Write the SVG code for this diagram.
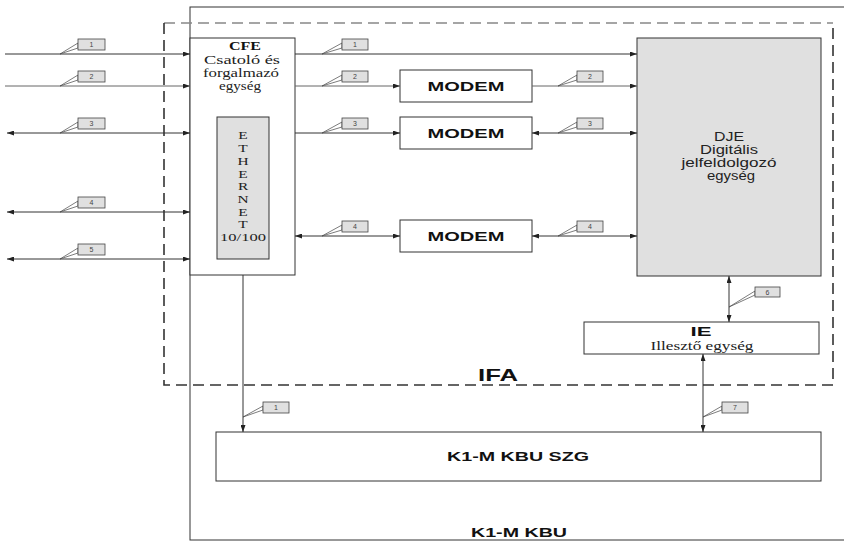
<svg xmlns="http://www.w3.org/2000/svg" width="844" height="544" viewBox="0 0 844 544">
<style>
.box{fill:#fff;stroke:#333;stroke-width:1}
.gbox{fill:#e0e0e0;stroke:#333;stroke-width:1}
.con{fill:none;stroke:#333;stroke-width:1}
.con2{fill:none;stroke:#666;stroke-width:1}
.dash{fill:none;stroke:#333;stroke-width:1.6;stroke-dasharray:11 6}
.dashg{fill:none;stroke:#888;stroke-width:1.6;stroke-dasharray:11 6}
.lb{fill:#e0e0e0;stroke:#444;stroke-width:0.8}
.ld{fill:#fff;stroke:#444;stroke-width:0.7}
.ln{font-family:"Liberation Sans",Arial,sans-serif;font-size:7px;fill:#444;text-anchor:middle}
.sb{font-family:"Liberation Sans",Arial,sans-serif;font-weight:bold;font-size:12px;fill:#111;text-anchor:middle}
.s{font-family:"Liberation Sans",Arial,sans-serif;font-size:12px;fill:#222;text-anchor:middle}
.r{font-family:"Liberation Serif","Times New Roman",serif;font-size:12px;fill:#222;text-anchor:middle}
.rs{font-family:"Liberation Serif","Times New Roman",serif;font-size:11.5px;fill:#222;text-anchor:middle}
.rb{font-family:"Liberation Serif","Times New Roman",serif;font-weight:bold;font-size:13px;fill:#111;text-anchor:middle}
.re{font-family:"Liberation Serif","Times New Roman",serif;font-size:11px;fill:#222;text-anchor:middle}
</style>
<defs>
<marker id="ah" viewBox="0 0 7 5" refX="7" refY="2.5" markerWidth="7" markerHeight="5" markerUnits="userSpaceOnUse" orient="auto-start-reverse">
<path d="M0,0 L7,2.5 L0,5 z" fill="#222"/>
</marker>
</defs>

<g id="kbu">
<rect x="190" y="7" width="680" height="533" class="box"/>
<text class="sb" x="519" y="537" textLength="96" lengthAdjust="spacingAndGlyphs">K1-M KBU</text>
</g>

<g id="ifa">
<path d="M164,23 H833" class="dashg"/>
<path d="M164,23 V385 H833 V23" class="dash"/>
<text class="sb" x="498" y="381" style="font-size:17px" textLength="40" lengthAdjust="spacingAndGlyphs">IFA</text>
</g>

<g id="cfe">
<rect x="190" y="38" width="105" height="237" class="box"/>
<text class="rb" x="245" y="50" textLength="32" lengthAdjust="spacingAndGlyphs">CFE</text>
<text class="rs" x="242" y="64" textLength="76" lengthAdjust="spacingAndGlyphs">Csatoló  és</text>
<text class="rs" x="241" y="76.5" textLength="76" lengthAdjust="spacingAndGlyphs">forgalmazó</text>
<text class="rs" x="240" y="89.5" textLength="42" lengthAdjust="spacingAndGlyphs">egység</text>
</g>

<g id="ethernet">
<rect x="217" y="117" width="52" height="142" class="gbox"/>
<g class="re">
<text transform="translate(243 0) scale(1.4 1)" x="0" y="139">E</text>
<text transform="translate(243 0) scale(1.4 1)" x="0" y="152">T</text>
<text transform="translate(243 0) scale(1.4 1)" x="0" y="165">H</text>
<text transform="translate(243 0) scale(1.4 1)" x="0" y="178">E</text>
<text transform="translate(243 0) scale(1.4 1)" x="0" y="190">R</text>
<text transform="translate(243 0) scale(1.4 1)" x="0" y="203">N</text>
<text transform="translate(243 0) scale(1.4 1)" x="0" y="216">E</text>
<text transform="translate(243 0) scale(1.4 1)" x="0" y="228">T</text>
</g>
<text class="re" x="243" y="241" textLength="46" lengthAdjust="spacingAndGlyphs">10/100</text>
</g>

<g id="modem2">
<rect x="400" y="70" width="132" height="32" class="box"/>
<text class="sb" x="466" y="91" style="font-size:13px" textLength="77" lengthAdjust="spacingAndGlyphs">MODEM</text>
</g>
<g id="modem3">
<rect x="400" y="117" width="132" height="32" class="box"/>
<text class="sb" x="466" y="138" style="font-size:13px" textLength="77" lengthAdjust="spacingAndGlyphs">MODEM</text>
</g>
<g id="modem4">
<rect x="400" y="220" width="132" height="32" class="box"/>
<text class="sb" x="466" y="241" style="font-size:13px" textLength="77" lengthAdjust="spacingAndGlyphs">MODEM</text>
</g>

<g id="dje">
<rect x="637" y="38" width="184" height="238" class="gbox"/>
<text class="s" x="729" y="141" textLength="30" lengthAdjust="spacingAndGlyphs">DJE</text>
<text class="s" x="729" y="154" textLength="58" lengthAdjust="spacingAndGlyphs">Digitális</text>
<text class="s" x="729" y="167" textLength="95" lengthAdjust="spacingAndGlyphs">jelfeldolgozó</text>
<text class="s" x="731" y="180" textLength="48" lengthAdjust="spacingAndGlyphs">egység</text>
</g>

<g id="ie">
<rect x="584" y="322" width="235" height="32" class="box"/>
<text class="sb" x="701" y="336" style="font-size:13px" textLength="21" lengthAdjust="spacingAndGlyphs">IE</text>
<text class="r" x="702" y="350" textLength="103" lengthAdjust="spacingAndGlyphs">Illesztő egység</text>
</g>

<g id="szg">
<rect x="216" y="432" width="605" height="49" class="box"/>
<text class="sb" x="518" y="461" style="font-size:13px" textLength="142" lengthAdjust="spacingAndGlyphs">K1-M KBU SZG</text>
</g>

<g id="connectors">
<path d="M5,54 H190" class="con" marker-end="url(#ah)"/>
<path d="M5,86 H190" class="con2" marker-end="url(#ah)"/>
<path d="M7,133 H190" class="con" marker-start="url(#ah)" marker-end="url(#ah)"/>
<path d="M7,212 H190" class="con" marker-start="url(#ah)" marker-end="url(#ah)"/>
<path d="M7,259 H190" class="con" marker-start="url(#ah)" marker-end="url(#ah)"/>
<path d="M295,54 H637" class="con" marker-end="url(#ah)"/>
<path d="M295,86 H400" class="con2" marker-end="url(#ah)"/>
<path d="M532,86 H637" class="con2" marker-end="url(#ah)"/>
<path d="M295,133 H400" class="con" marker-end="url(#ah)"/>
<path d="M532,133 H637" class="con" marker-start="url(#ah)" marker-end="url(#ah)"/>
<path d="M295,236 H400" class="con" marker-start="url(#ah)" marker-end="url(#ah)"/>
<path d="M532,236 H637" class="con" marker-start="url(#ah)" marker-end="url(#ah)"/>
<path d="M729,276 V322" class="con" marker-start="url(#ah)" marker-end="url(#ah)"/>
<path d="M703,354 V432" class="con" marker-start="url(#ah)" marker-end="url(#ah)"/>
<path d="M243,275 V432" class="con" marker-end="url(#ah)"/>
</g>

<g id="labels">
<polygon class="ld" points="60,54 78,43 78,48"/><rect class="lb" x="78" y="39" width="27" height="11"/><text class="ln" x="91.5" y="47">1</text>
<polygon class="ld" points="60,86 78,75 78,80"/><rect class="lb" x="78" y="71" width="27" height="11"/><text class="ln" x="91.5" y="79">2</text>
<polygon class="ld" points="60,133 78,122 78,127"/><rect class="lb" x="78" y="118" width="27" height="11"/><text class="ln" x="91.5" y="126">3</text>
<polygon class="ld" points="60,212 78,201 78,206"/><rect class="lb" x="78" y="197" width="27" height="11"/><text class="ln" x="91.5" y="205">4</text>
<polygon class="ld" points="60,259 78,248 78,253"/><rect class="lb" x="78" y="244" width="27" height="11"/><text class="ln" x="91.5" y="252">5</text>
<polygon class="ld" points="322,54 342,43 342,48"/><rect class="lb" x="342" y="39" width="26" height="11"/><text class="ln" x="355" y="47">1</text>
<polygon class="ld" points="322,86 342,75 342,80"/><rect class="lb" x="342" y="71" width="26" height="11"/><text class="ln" x="355" y="79">2</text>
<polygon class="ld" points="322,133 342,122 342,127"/><rect class="lb" x="342" y="118" width="26" height="11"/><text class="ln" x="355" y="126">3</text>
<polygon class="ld" points="322,236 342,225 342,230"/><rect class="lb" x="342" y="221" width="26" height="11"/><text class="ln" x="355" y="229">4</text>
<polygon class="ld" points="558,86 577,75 577,80"/><rect class="lb" x="577" y="71" width="26" height="11"/><text class="ln" x="590" y="79">2</text>
<polygon class="ld" points="558,133 577,122 577,127"/><rect class="lb" x="577" y="118" width="26" height="11"/><text class="ln" x="590" y="126">3</text>
<polygon class="ld" points="558,236 577,225 577,230"/><rect class="lb" x="577" y="221" width="26" height="11"/><text class="ln" x="590" y="229">4</text>
<polygon class="ld" points="729,307 755,291 755,295"/><rect class="lb" x="755" y="287" width="25" height="10"/><text class="ln" x="767.5" y="294.5">6</text>
<polygon class="ld" points="703,417 722,406 722,410"/><rect class="lb" x="722" y="402" width="26" height="11"/><text class="ln" x="735" y="410">7</text>
<polygon class="ld" points="243,417 263,406 263,410"/><rect class="lb" x="263" y="402" width="26" height="11"/><text class="ln" x="276" y="410">1</text>
</g>
</svg>
